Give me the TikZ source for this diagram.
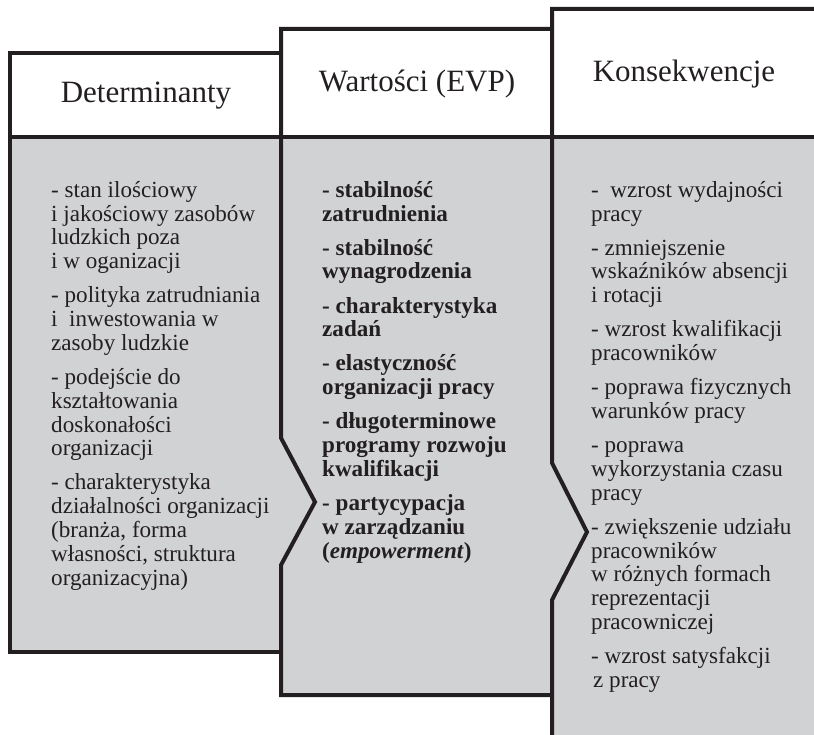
\documentclass[tikz,border=0pt]{standalone}
\usepackage{fontspec}
\setmainfont{Liberation Serif}
\definecolor{boxgray}{RGB}{209,210,212}
\definecolor{ink}{RGB}{35,31,32}

\begin{document}
\begin{tikzpicture}[x=1pt, y=-1pt,
	frame/.style={line width=4pt, draw=ink, line join=miter},
	header/.style={font=\fontsize{31}{34}\selectfont, text=ink, anchor=base, inner sep=0pt},
	list/.style={font=\fontsize{23.1}{23.8}\selectfont, text=ink, align=left, anchor=north west, inner sep=0pt}]
	\useasboundingbox (0,0) rectangle (814,735);
	\fill[boxgray] (10,137) -- (281,137) -- (281,438) -- (315,502) -- (281,565) -- (281,652) -- (10,652) -- cycle;
	\fill[boxgray] (281,137) -- (552,137) -- (552,463) -- (587,532) -- (552,600) -- (552,695) -- (281,695)
		-- (281,565) -- (315,502) -- (281,438) -- cycle;
	\fill[boxgray] (552,137) -- (814,137) -- (814,735) -- (552,735) -- (552,600) -- (587,532) -- (552,463) -- cycle;
	\draw[frame] (281,53) -- (10,53) -- (10,652) -- (281,652);
	\draw[frame] (552,29) -- (281,29) -- (281,438) -- (315,502) -- (281,565) -- (281,695) -- (552,695);
	\draw[frame] (814,9) -- (552,9) -- (552,463) -- (587,532) -- (552,600) -- (552,735);
	\draw[frame] (10,137) -- (814,137);
	\node[header] (hdet) at (146,103) {Determinanty};
	\node[header] (hevp) at (417,92) {Wartości (EVP)};
	\node[header] (hkons) at (684,82) {Konsekwencje};
	\node[list] (det) at (51,181) {- stan ilościowy\\
		i jakościowy zasobów\\
		ludzkich poza\\
		i w oganizacji\\[10.3pt]
		- polityka zatrudniania\\
		i \ inwestowania w\\
		zasoby ludzkie\\[10.3pt]
		- podejście do\\
		kształtowania\\
		doskonałości\\
		organizacji\\[10.3pt]
		- charakterystyka\\
		działalności organizacji\\
		(branża, forma\\
		własności, struktura\\
		organizacyjna)};
	\node[list, font=\fontsize{23.1}{23.8}\selectfont\bfseries] (evp) at (322,181) {- stabilność\\
		zatrudnienia\\[10.3pt]
		- stabilność\\
		wynagrodzenia\\[10.3pt]
		- charakterystyka\\
		zadań\\[10.3pt]
		- elastyczność\\
		organizacji pracy\\[10.3pt]
		- długoterminowe\\
		programy rozwoju\\
		kwalifikacji\\[10.3pt]
		- partycypacja\\
		w zarządzaniu\\
		(\textit{empowerment})};
	\node[list] (kons) at (591,181) {- \ wzrost wydajności\\
		pracy\\[10.3pt]
		- zmniejszenie\\
		wskaźników absencji\\
		i rotacji\\[10.3pt]
		- wzrost kwalifikacji\\
		pracowników\\[10.3pt]
		- poprawa fizycznych\\
		warunków pracy\\[10.3pt]
		- poprawa\\
		wykorzystania czasu\\
		pracy\\[10.3pt]
		- zwiększenie udziału\\
		pracowników\\
		w różnych formach\\
		reprezentacji\\
		pracowniczej\\[10.3pt]
		- wzrost satysfakcji\\
		\hspace{2pt}z pracy};
\end{tikzpicture}
\end{document}
